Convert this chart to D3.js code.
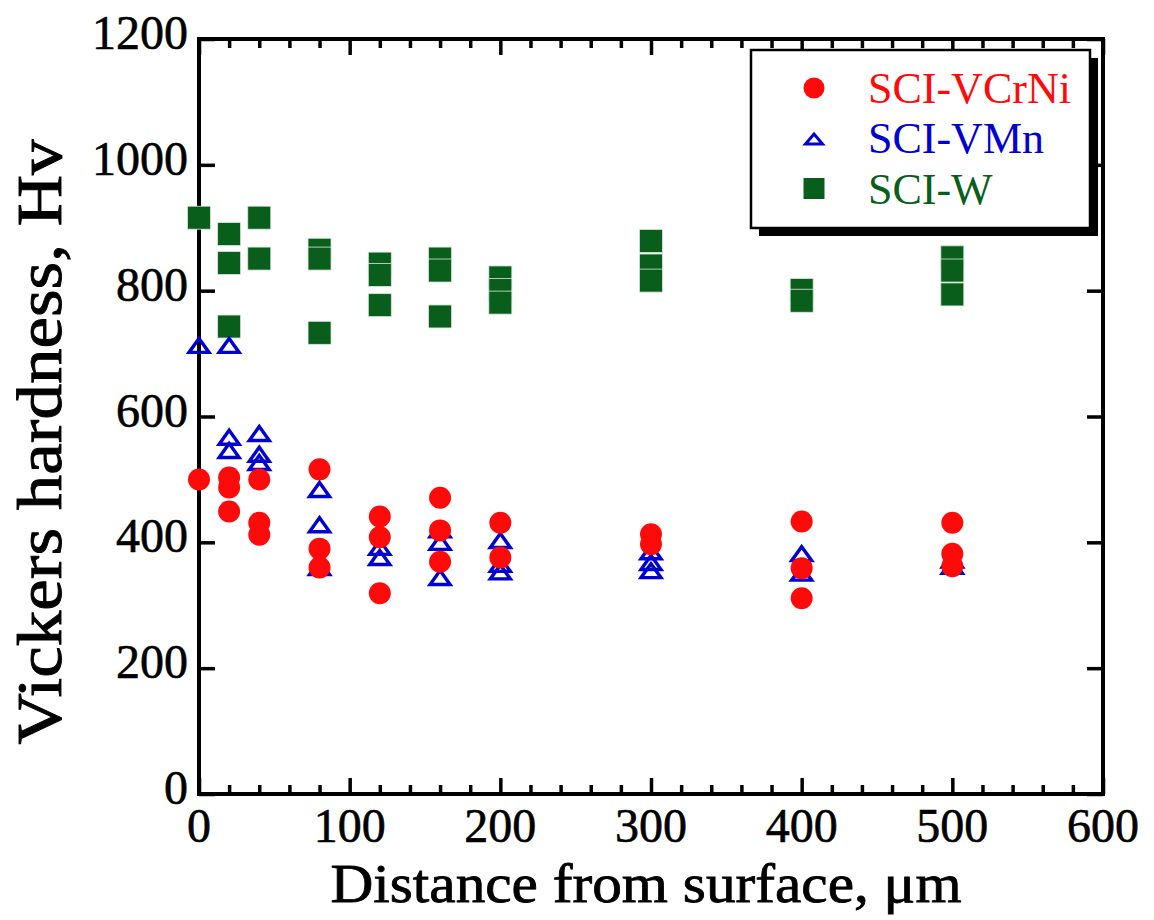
<!DOCTYPE html>
<html>
<head>
<meta charset="utf-8">
<script src="https://cdn.jsdelivr.net/npm/d3@7"></script>
<style>
  html, body { margin: 0; padding: 0; background: #fff; }
  svg { display: block; }
  text { font-family: "Liberation Serif", "Times New Roman", serif; }
</style>
</head>
<body>
<svg id="chart" width="1154" height="920"></svg>
<script>
// Vickers hardness profiles of three cast irons versus depth below the surface
const xTicks = [0, 100, 200, 300, 400, 500, 600];
const yTicks = [0, 200, 400, 600, 800, 1000, 1200];

// SCI-VCrNi (red filled circles)
const vcrniDist = [0, 20, 20, 20, 40, 40, 40, 80, 80, 80, 120, 120, 120, 160, 160, 160, 200, 200, 300, 300, 400, 400, 400, 500, 500, 500];
const vcrniHv   = [500, 503, 487, 449, 500, 431, 412, 516, 390, 360, 441, 408, 319, 471, 419, 369, 431, 376, 413, 397, 433, 359, 311, 431, 382, 362];

// SCI-VMn (blue open triangles)
const vmnDist = [0, 20, 20, 20, 40, 40, 40, 80, 80, 80, 120, 120, 160, 160, 160, 200, 200, 200, 300, 300, 300, 400, 400, 500, 500];
const vmnHv   = [713, 713, 567, 546, 573, 540, 527, 484, 428, 360, 392, 376, 420, 400, 344, 403, 365, 353, 385, 368, 355, 382, 351, 372, 362];

// SCI-W (green filled squares)
const wDist = [0, 20, 20, 20, 40, 40, 80, 80, 80, 120, 120, 120, 160, 160, 160, 200, 200, 200, 300, 300, 300, 400, 400, 500, 500, 500];
const wHv   = [916, 890, 844, 743, 916, 851, 865, 851, 733, 843, 825, 777, 851, 832, 759, 821, 801, 781, 879, 840, 816, 801, 784, 853, 832, 794];

const seriesNames = ["SCI-VCrNi", "SCI-VMn", "SCI-W"];
const RED = "#ff0a0a", BLUE = "#0000d2", GREEN = "#0a5e1c";

const svg = d3.select("#chart");
const plotL = 199, plotR = 1103, plotT = 39, plotB = 794;

const x = d3.scaleLinear().domain([0, 600]).range([plotL, plotR]);
const y = d3.scaleLinear().domain([0, 1200]).range([plotB, plotT]);

const zip = (a, b) => a.map((d, i) => ({ d, v: b[i] }));

// ---- axes (ticks pointing inward on all four sides) ----
const frame = svg.append("g");
const major = 16, minor = 9;

const xMinor = d3.range(0, 601, 20).filter(v => v % 100 !== 0);

// bottom
frame.append("g").attr("transform", `translate(0,${plotB})`)
  .call(d3.axisBottom(x).tickValues(xMinor).tickSize(-minor).tickFormat(""))
  .call(g => g.select(".domain").remove());
frame.append("g").attr("transform", `translate(0,${plotB})`)
  .call(d3.axisBottom(x).tickValues(xTicks).tickSize(-major).tickFormat(""))
  .call(g => g.select(".domain").remove());
// top
frame.append("g").attr("transform", `translate(0,${plotT})`)
  .call(d3.axisTop(x).tickValues(xMinor).tickSize(-minor).tickFormat(""))
  .call(g => g.select(".domain").remove());
frame.append("g").attr("transform", `translate(0,${plotT})`)
  .call(d3.axisTop(x).tickValues(xTicks).tickSize(-major).tickFormat(""))
  .call(g => g.select(".domain").remove());
// left / right
frame.append("g").attr("transform", `translate(${plotL},0)`)
  .call(d3.axisLeft(y).tickValues(yTicks).tickSize(-major).tickFormat(""))
  .call(g => g.select(".domain").remove());
frame.append("g").attr("transform", `translate(${plotR},0)`)
  .call(d3.axisRight(y).tickValues(yTicks).tickSize(-major).tickFormat(""))
  .call(g => g.select(".domain").remove());

frame.selectAll(".tick line").attr("stroke", "#000").attr("stroke-width", 3.5);

frame.append("rect")
  .attr("x", plotL).attr("y", plotT)
  .attr("width", plotR - plotL).attr("height", plotB - plotT)
  .attr("fill", "none").attr("stroke", "#000").attr("stroke-width", 4);

// tick labels
svg.append("g").selectAll("text").data(xTicks).join("text")
  .attr("x", d => x(d)).attr("y", plotB + 48)
  .attr("text-anchor", "middle").attr("font-size", 48)
  .attr("stroke", "#000").attr("stroke-width", 0.6)
  .text(d => d);

svg.append("g").selectAll("text").data(yTicks).join("text")
  .attr("x", plotL - 11).attr("y", d => y(d) + 10)
  .attr("text-anchor", "end").attr("font-size", 48)
  .attr("stroke", "#000").attr("stroke-width", 0.6)
  .text(d => d);

// axis titles
svg.append("text")
  .attr("x", 646).attr("y", 902)
  .attr("text-anchor", "middle").attr("font-size", 55)
  .attr("textLength", 631).attr("lengthAdjust", "spacingAndGlyphs")
  .attr("stroke", "#000").attr("stroke-width", 0.8)
  .text("Distance from surface, \u03bcm");

svg.append("text")
  .attr("transform", "translate(61,442) rotate(-90)")
  .attr("text-anchor", "middle").attr("font-size", 64)
  .attr("textLength", 605).attr("lengthAdjust", "spacingAndGlyphs")
  .attr("stroke", "#000").attr("stroke-width", 0.9)
  .text("Vickers hardness, Hv");

// ---- markers ----
const SQ = 23;
const triPath = (cx, cy, w, h) =>
  `M${cx},${cy - h / 2}L${cx + w / 2},${cy + h / 2}L${cx - w / 2},${cy + h / 2}Z`;

const plot = svg.append("g");

plot.append("g").selectAll("rect").data(zip(wDist, wHv)).join("rect")
  .attr("x", p => x(p.d) - SQ / 2).attr("y", p => y(p.v) - SQ / 2)
  .attr("width", SQ).attr("height", SQ)
  .attr("fill", GREEN).attr("stroke", "#d9e8dc").attr("stroke-width", 0.8);

plot.append("g").selectAll("path").data(zip(vmnDist, vmnHv)).join("path")
  .attr("d", p => triPath(x(p.d), y(p.v), 20, 14))
  .attr("fill", "none").attr("stroke", BLUE).attr("stroke-width", 3.4)
  .attr("stroke-linejoin", "miter");

plot.append("g").selectAll("circle").data(zip(vcrniDist, vcrniHv)).join("circle")
  .attr("cx", p => x(p.d)).attr("cy", p => y(p.v)).attr("r", 11)
  .attr("fill", RED);

// ---- legend ----
const lg = svg.append("g");
const lx = 751, ly = 50, lw = 339, lh = 178;
lg.append("rect").attr("x", lx + 8).attr("y", ly + 8).attr("width", lw).attr("height", lh).attr("fill", "#000");
lg.append("rect").attr("x", lx).attr("y", ly).attr("width", lw).attr("height", lh)
  .attr("fill", "#fff").attr("stroke", "#000").attr("stroke-width", 2.5);

const rows = [
  { name: seriesNames[0], color: RED, base: 103 },
  { name: seriesNames[1], color: BLUE, base: 153 },
  { name: seriesNames[2], color: GREEN, base: 204 }
];
const mx = 814;
lg.append("circle").attr("cx", mx).attr("cy", rows[0].base - 15).attr("r", 10.5).attr("fill", RED);
lg.append("path").attr("d", triPath(mx, rows[1].base - 14, 17, 10))
  .attr("fill", "none").attr("stroke", BLUE).attr("stroke-width", 3);
lg.append("rect").attr("x", mx - 10.5).attr("y", rows[2].base - 26).attr("width", 21).attr("height", 21).attr("fill", GREEN);

lg.selectAll("text").data(rows).join("text")
  .attr("x", 868).attr("y", r => r.base)
  .attr("font-size", 44).attr("fill", r => r.color)
  .text(r => r.name);
</script>
</body>
</html>
